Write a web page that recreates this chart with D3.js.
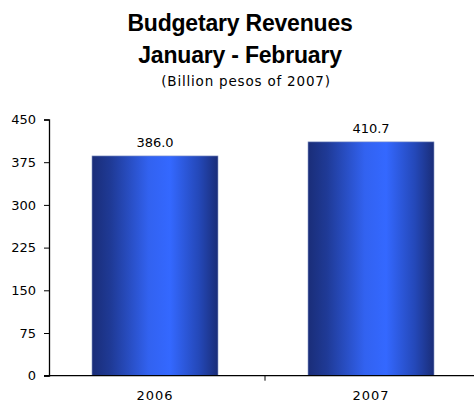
<!DOCTYPE html>
<html>
<head>
<meta charset="utf-8">
<script src="https://cdn.jsdelivr.net/npm/d3@7"></script>
<style>
  body { margin: 0; background: #fff; }
  text { font-family: "DejaVu Sans", Verdana, sans-serif; }
</style>
</head>
<body>
<div id="chart"></div>
<script>
var years = ["2006", "2007"];
var revenues = [386.0, 410.7];
var yTicks = [0, 75, 150, 225, 300, 375, 450];

var w = 474, h = 402;

var svg = d3.select("#chart").append("svg")
    .attr("width", w)
    .attr("height", h);

var defs = svg.append("defs");
var grad = defs.append("linearGradient")
    .attr("id", "barGrad")
    .attr("x1", "0%").attr("x2", "100%")
    .attr("y1", "0%").attr("y2", "0%");
grad.append("stop").attr("offset", "0%").attr("stop-color", "#1a2d78");
grad.append("stop").attr("offset", "15%").attr("stop-color", "#1f3a96");
grad.append("stop").attr("offset", "45%").attr("stop-color", "#3262f0");
grad.append("stop").attr("offset", "62%").attr("stop-color", "#3468ff");
grad.append("stop").attr("offset", "85%").attr("stop-color", "#2448b8");
grad.append("stop").attr("offset", "100%").attr("stop-color", "#1a2d78");

// titles
svg.append("text").attr("x", 240).attr("y", 31)
    .attr("text-anchor", "middle")
    .style("font-family", "'Liberation Sans', Arial, sans-serif")
    .style("font-size", "23px").style("font-weight", "bold")
    .style("letter-spacing", "-0.2px")
    .text("Budgetary Revenues");
svg.append("text").attr("x", 240).attr("y", 63)
    .attr("text-anchor", "middle")
    .style("font-family", "'Liberation Sans', Arial, sans-serif")
    .style("font-size", "23px").style("font-weight", "bold")
    .style("letter-spacing", "-0.2px")
    .text("January - February");
svg.append("text").attr("x", 246).attr("y", 86)
    .attr("text-anchor", "middle")
    .style("font-size", "13.5px")
    .style("letter-spacing", "0.8px")
    .text("(Billion pesos of 2007)");

var x = d3.scaleBand()
    .domain(years)
    .range([47, 47 + 216 * 2])
    .paddingInner(0.4167)
    .paddingOuter(0.2083);

var y = d3.scaleLinear()
    .domain([0, 450])
    .range([375.7, 119.5]);

// bars
svg.selectAll("rect.bar")
    .data(revenues)
    .enter().append("rect")
    .attr("class", "bar")
    .attr("x", function (d, i) { return x(years[i]); })
    .attr("y", function (d) { return y(d); })
    .attr("width", x.bandwidth())
    .attr("height", function (d) { return y(0) - y(d); })
    .style("fill", "url(#barGrad)")
    .style("stroke", "#8a9ac8")
    .style("stroke-width", 0.6);

// value labels
svg.selectAll("text.val")
    .data(revenues)
    .enter().append("text")
    .attr("class", "val")
    .attr("x", function (d, i) { return x(years[i]) + x.bandwidth() / 2; })
    .attr("y", function (d) { return y(d) - 9; })
    .attr("text-anchor", "middle")
    .style("font-size", "13px")
    .text(function (d) { return d.toFixed(1); });

// y axis
var yAxis = svg.append("g")
    .attr("transform", "translate(49,0)")
    .call(d3.axisLeft(y).tickValues(yTicks).tickSize(5).tickPadding(8));
yAxis.select(".domain").attr("stroke", "#000").attr("stroke-width", 1.3);
yAxis.selectAll("text")
    .style("font-size", "13px")
    .style("font-family", "'DejaVu Sans', Verdana, sans-serif");

// x axis
var xAxis = svg.append("g")
    .attr("transform", "translate(0," + y(0) + ")");
xAxis.append("line")
    .attr("x1", 44).attr("x2", w)
    .attr("y1", 0).attr("y2", 0)
    .attr("stroke", "#000").attr("stroke-width", 1.3);
xAxis.append("line")
    .attr("x1", 49 + 216).attr("x2", 49 + 216)
    .attr("y1", 0).attr("y2", 5)
    .attr("stroke", "#000");
xAxis.selectAll("text.cat")
    .data(years)
    .enter().append("text")
    .attr("class", "cat")
    .attr("x", function (d) { return x(d) + x.bandwidth() / 2; })
    .attr("y", 24.5)
    .attr("text-anchor", "middle")
    .style("font-size", "13px")
    .style("letter-spacing", "1px")
    .text(function (d) { return d; });
</script>
</body>
</html>
